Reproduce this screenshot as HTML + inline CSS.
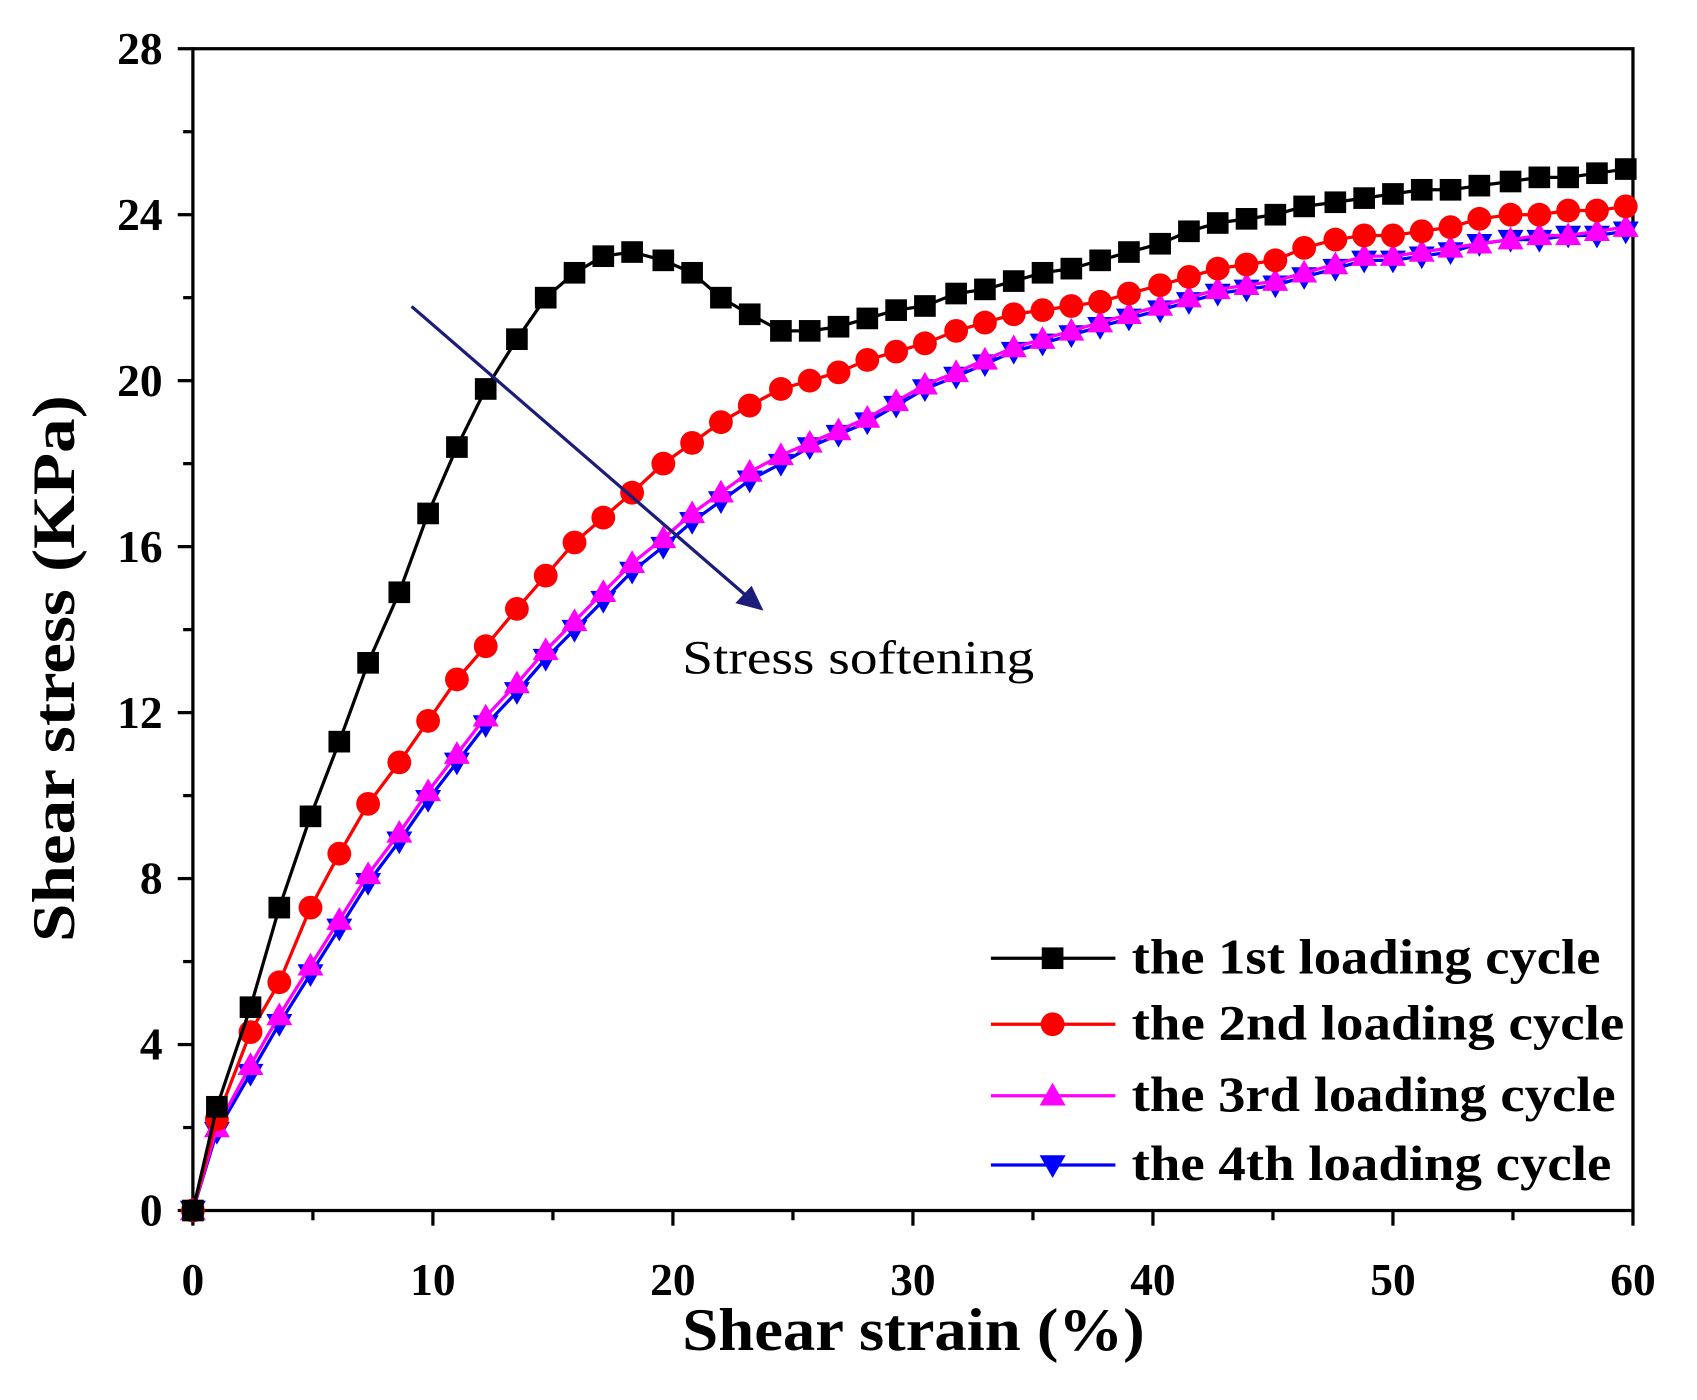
<!DOCTYPE html>
<html><head><meta charset="utf-8"><style>
html,body{margin:0;padding:0;background:#fff;}
svg{display:block;font-family:"Liberation Serif",serif;}
</style></head><body>
<svg id="chart" width="1697" height="1400" viewBox="0 0 1567 1293" xmlns="http://www.w3.org/2000/svg">
<rect width="1567" height="1293" fill="#fff"/>
<g id="axes"></g>
<g id="series"></g>
<g id="legend"></g>
<line x1="380" y1="283" x2="690" y2="551" stroke="#1c1c7a" stroke-width="3"/>
<polygon points="705,564 679,557 694,541" fill="#1c1c7a"/>
<text x="630" y="622" font-size="44" textLength="325" lengthAdjust="spacingAndGlyphs">Stress softening</text>
<text x="630" y="1247" font-size="56" font-weight="bold" textLength="427" lengthAdjust="spacingAndGlyphs">Shear strain (%)</text>
<text transform="translate(68,870) rotate(-90)" font-size="56" font-weight="bold" textLength="505" lengthAdjust="spacingAndGlyphs">Shear stress (KPa)</text>
</svg>
<script>
const xs = [0,1.0,2.4,3.6,4.9,6.1,7.3,8.6,9.8,11,12.2,13.5,14.7,15.9,17.1,18.3,19.6,20.8,22,23.2,24.5,25.7,26.9,28.1,29.3,30.5,31.8,33,34.2,35.4,36.6,37.8,39,40.3,41.5,42.7,43.9,45.1,46.3,47.6,48.8,50,51.2,52.4,53.6,54.9,56.1,57.3,58.5,59.7];
const cycle1 = [0,2.5,4.9,7.3,9.5,11.3,13.2,14.9,16.8,18.4,19.8,21.0,22.0,22.6,23.0,23.1,22.9,22.6,22.0,21.6,21.2,21.2,21.3,21.5,21.7,21.8,22.1,22.2,22.4,22.6,22.7,22.9,23.1,23.3,23.6,23.8,23.9,24.0,24.2,24.3,24.4,24.5,24.6,24.6,24.7,24.8,24.9,24.9,25.0,25.1];
const cycle2 = [0,2.2,4.3,5.5,7.3,8.6,9.8,10.8,11.8,12.8,13.6,14.5,15.3,16.1,16.7,17.3,18.0,18.5,19.0,19.4,19.8,20.0,20.2,20.5,20.7,20.9,21.2,21.4,21.6,21.7,21.8,21.9,22.1,22.3,22.5,22.7,22.8,22.9,23.2,23.4,23.5,23.5,23.6,23.7,23.9,24.0,24.0,24.1,24.1,24.2];
const cycle3 = [0,2.0,3.5,4.7,5.9,7.0,8.1,9.1,10.1,11.0,11.9,12.7,13.5,14.2,14.9,15.6,16.2,16.8,17.3,17.8,18.2,18.5,18.8,19.1,19.5,19.9,20.2,20.5,20.8,21.0,21.2,21.4,21.6,21.8,22.0,22.2,22.3,22.4,22.6,22.8,23.0,23.0,23.1,23.2,23.3,23.4,23.5,23.5,23.6,23.7];
const cycle4 = [0,1.9,3.3,4.5,5.7,6.8,7.9,8.9,9.9,10.8,11.7,12.5,13.3,14.0,14.7,15.4,16.0,16.6,17.1,17.6,18.0,18.4,18.7,19.0,19.4,19.8,20.1,20.4,20.7,20.9,21.1,21.3,21.5,21.7,21.9,22.1,22.2,22.3,22.5,22.7,22.9,22.9,23.0,23.1,23.3,23.4,23.4,23.5,23.5,23.6];
const xTicks = [0,10,20,30,40,50,60];
const yTicks = [0,4,8,12,16,20,24,28];
const seriesNames = ["the 1st loading cycle","the 2nd loading cycle","the 3rd loading cycle","the 4th loading cycle"];

const NS="http://www.w3.org/2000/svg";
const X0=178,X1=1508,Y0=1118,Y1=45;
const sx=v=>X0+(v/60)*(X1-X0);
const sy=v=>Y0-(v/28)*(Y0-Y1);
function mk(tag,attrs,parent){const e=document.createElementNS(NS,tag);for(const k in attrs)e.setAttribute(k,attrs[k]);parent.appendChild(e);return e;}
const axes=document.getElementById('axes');
const frame=mk('rect',{x:X0,y:Y1,width:X1-X0,height:Y0-Y1,fill:'none',stroke:'#000','stroke-width':3},axes);


for(let v=0;v<=60;v+=5){
  const major=v%10===0;
  const t=mk('line',{x1:sx(v),x2:sx(v),y1:Y0,y2:Y0+(major?14:9),stroke:'#000','stroke-width':3},axes);
  
  
}
xTicks.forEach(v=>{
  const t=mk('text',{x:sx(v),y:1196,'font-size':42,'font-weight':'bold','text-anchor':'middle'},axes);
  t.textContent=v;
  
  
});
for(let v=0;v<=28;v+=2){
  const major=v%4===0;
  const t=mk('line',{x1:X0-(major?14:9),x2:X0,y1:sy(v),y2:sy(v),stroke:'#000','stroke-width':3},axes);
  
  
}
yTicks.forEach(v=>{
  const t=mk('text',{x:150,y:sy(v)+14,'font-size':42,'font-weight':'bold','text-anchor':'end'},axes);
  t.textContent=v;
  
  
});
const ser=document.getElementById('series');
function marker(type,x,y,color,parent){
  let e;
  if(type==='square'){e=mk('rect',{x:x-10,y:y-10,width:20,height:20,fill:color},parent);}
  else if(type==='circle'){e=mk('circle',{cx:x,cy:y,r:11,fill:color},parent);}
  else if(type==='up'){e=mk('polygon',{points:`${x},${y-12} ${x-12},${y+9} ${x+12},${y+9}`,fill:color},parent);}
  else {e=mk('polygon',{points:`${x},${y+12} ${x-12},${y-9} ${x+12},${y-9}`,fill:color},parent);}
  return e;
}
const defs=[[cycle1,'#000','square','cycle-1'],[cycle2,'#ff0000','circle','cycle-2'],[cycle3,'#ff00ff','up','cycle-3'],[cycle4,'#0000ff','down','cycle-4']];
[3,2,1,0].forEach(i=>{
  const [d,c,m,n]=defs[i];
  const g=mk('g',{},ser);
  
  
  const pl=mk('polyline',{points:d.map((v,j)=>sx(xs[j])+','+sy(v)).join(' '),fill:'none',stroke:c,'stroke-width':3},g);
  
  
  d.forEach((v,j)=>{
    const e=marker(m,sx(xs[j]),sy(v),c,g);
    
    
  });
});
const leg=document.getElementById('legend');
const ly=[885,946,1012,1076];
const lw=[433,455,447,443];
defs.forEach((d,i)=>{
  const g=mk('g',{},leg);
  
  
  mk('line',{x1:915,x2:1030,y1:ly[i],y2:ly[i],stroke:d[1],'stroke-width':3},g);
  marker(d[2],972,ly[i],d[1],g);
  const t=mk('text',{x:1045,y:ly[i]+14,'font-size':46,'font-weight':'bold',textLength:lw[i],lengthAdjust:'spacingAndGlyphs'},g);
  t.textContent=seriesNames[i];
});
</script>
</body></html>
